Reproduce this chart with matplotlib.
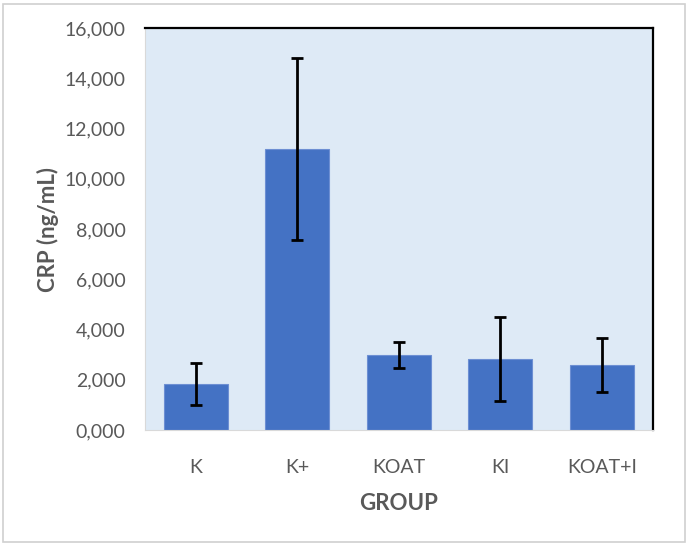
import matplotlib.pyplot as plt
from matplotlib.patches import Rectangle
from matplotlib.ticker import FuncFormatter

# data
groups = ['K', 'K+', 'KOAT', 'KI', 'KOAT+I']
crp_mean = [1820, 11200, 2985, 2815, 2590]
crp_err = [830, 3620, 510, 1670, 1070]

plt.rcParams['font.family'] = ['Lato', 'DejaVu Sans']

fig = plt.figure(figsize=(6.89, 5.46), dpi=100)
ax = fig.add_axes([145 / 689, 1 - 430 / 546, 507.5 / 689, 402 / 546])

# light grey frame round the whole chart
fig.patches.append(Rectangle((3 / 689, 4 / 546), 682 / 689, 538 / 546,
                             transform=fig.transFigure, fill=False,
                             edgecolor='#d0d0d0', linewidth=1.2))

ax.set_facecolor('#deeaf6')
x = range(len(groups))
ax.bar(x, crp_mean, width=0.63, color='#4472c4', edgecolor='#6d8fd3',
       linewidth=0.8, zorder=2)
ax.errorbar(x, crp_mean, yerr=crp_err, fmt='none', ecolor='black',
            elinewidth=2, capsize=4, capthick=2, zorder=3)

ax.set_xlim(-0.5, 4.5)
ax.set_ylim(0, 16000)
ax.set_yticks(range(0, 16001, 2000))
ax.yaxis.set_major_formatter(FuncFormatter(lambda v, p: '{:d},000'.format(int(v // 1000)) if v else '0,000'))
ax.set_xticks(list(x))
ax.set_xticklabels(groups)
ax.tick_params(axis='both', length=0, labelsize=14, colors='#595959')
ax.tick_params(axis='x', pad=21)
ax.tick_params(axis='y', pad=14)

ax.spines['top'].set_color('black')
ax.spines['right'].set_color('black')
ax.spines['top'].set_linewidth(1.6)
ax.spines['right'].set_linewidth(1.6)
ax.spines['left'].set_color('#d9d9d9')
ax.spines['bottom'].set_color('#d9d9d9')

ax.set_ylabel('CRP (ng/mL)', fontsize=16, fontweight='bold', color='#595959', labelpad=4)
ax.set_xlabel('GROUP', fontsize=16, fontweight='bold', color='#595959', labelpad=12)

plt.savefig('out.png', dpi=100)
